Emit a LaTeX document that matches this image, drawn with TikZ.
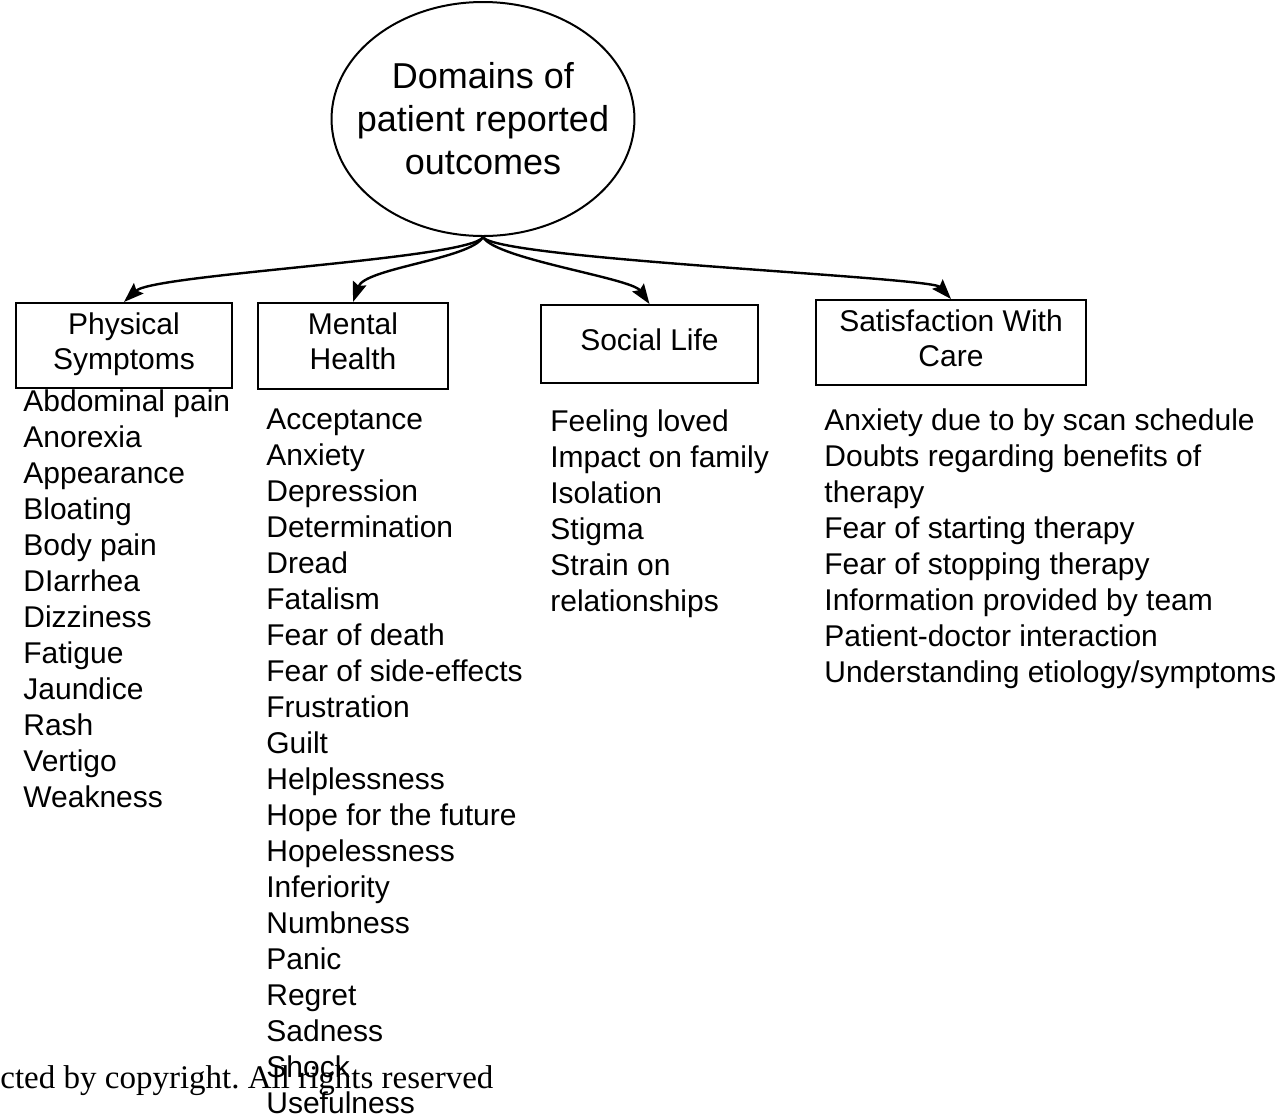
\documentclass[tikz,border=0pt]{standalone}
\usepackage{fontspec}
\setmainfont{Liberation Sans}
\newfontfamily\markfont{Liberation Serif}
\usetikzlibrary{shapes.geometric,arrows.meta}

\tikzset{
  dombox/.style={draw,line width=1pt,align=center,inner sep=0pt,text depth=4.5pt,font=\fontsize{15}{17.5}\selectfont},
  itemlist/.style={anchor=north west,align=left,inner sep=0pt,font=\fontsize{15}{18}\selectfont},
  conn/.style={line width=1.2pt,-{Stealth[length=10pt,width=7pt,inset=1.5pt]}},
}

\begin{document}
\frenchspacing
\begin{tikzpicture}[x=0.5pt,y=-0.5pt]
        \useasboundingbox (0,0) rectangle (1279,1115);
        %% root
        \node[ellipse,draw,line width=1pt,minimum width=150pt,minimum height=117pt,inner xsep=-9.5pt,inner ysep=0pt,align=center,font=\fontsize{18}{21.5}\selectfont] (dom) at (483,119) {Domains of\\patient reported\\outcomes};
        %% domains
        \node[dombox,minimum width=108pt,minimum height=42.5pt] (phys) at (124,345.5) {Physical\\Symptoms};
        \node[dombox,minimum width=95pt,minimum height=43pt] (ment) at (353,346) {Mental\\Health};
        \node[dombox,minimum width=108.5pt,minimum height=39pt] (soc) at (649.5,344) {Social Life};
        \node[dombox,minimum width=135pt,minimum height=42.5pt] (sat) at (951,342.5) {Satisfaction With\\Care};
        %% arrows
        \draw[conn] (dom.south) .. controls +(-12,22) and +(30,-28) .. (phys.north);
        \draw[conn] (dom.south) .. controls +(-12,22) and +(12,-34) .. (ment.north);
        \draw[conn] (dom.south) .. controls +(12,22) and +(-18,-26) .. (soc.north);
        \draw[conn] (dom.south) .. controls +(12,22) and +(-20,-22) .. (sat.north);
        %% lists
        \node[itemlist] (physlist) at (23,389) {Abdominal pain\\Anorexia\\Appearance\\Bloating\\Body pain\\DIarrhea\\Dizziness\\Fatigue\\Jaundice\\Rash\\Vertigo\\Weakness};
        \node[itemlist] (mentlist) at (266,408) {Acceptance\\Anxiety\\Depression\\Determination\\Dread\\Fatalism\\Fear of death\\Fear of side-effects\\Frustration\\Guilt\\Helplessness\\Hope for the future\\Hopelessness\\Inferiority\\Numbness\\Panic\\Regret\\Sadness\\Shock\\Usefulness};
        \node[itemlist] (soclist) at (550,409) {Feeling loved\\Impact on family\\Isolation\\Stigma\\Strain on\\relationships};
        \node[itemlist] (satlist) at (824,408) {Anxiety due to by scan schedule\\Doubts regarding benefits of\\therapy\\Fear of starting therapy\\Fear of stopping therapy\\Information provided by team\\Patient-doctor interaction\\Understanding etiology/symptoms};
        %% watermark
        \node[anchor=base west,inner sep=0pt,font=\markfont\fontsize{16.5}{18}\selectfont] (mark) at (0,1088) {cted by copyright. All rights reserved};
\end{tikzpicture}
\end{document}
